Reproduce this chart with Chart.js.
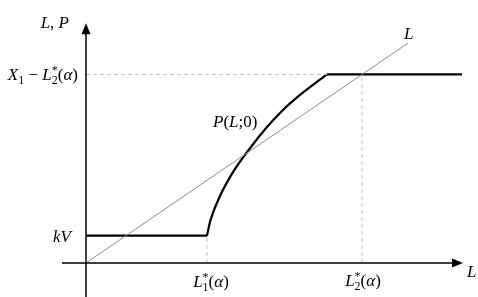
<!DOCTYPE html>
<html>
<head>
<meta charset="utf-8">
<script src="https://cdn.jsdelivr.net/npm/chart.js@4.4.0/dist/chart.umd.min.js"></script>
<style>
    html, body { margin: 0; padding: 0; background: #fff; }
    .probe { font-family: "Liberation Serif"; position: absolute; left: -999px; }
</style>
</head>
<body>
<span class="probe">L <i>L</i></span>
<canvas id="target" width="478" height="297"></canvas>
<script>
// values (L on the x axis, L and P on the y axis)
const L1 = 12.1;          // L1*(alpha)
const L2 = 27.6;          // L2*(alpha)
const kV = 4.0;           // floor of P
const cap = 27.6;         // X1 - L2*(alpha)
const capStart = 24.1;    // where the curve reaches the cap
const capEnd = 37.6;
const lineEnd = 32.2;     // end of the 45 degree line L

const curveX = [12.1, 12.4, 13.4, 14.7, 16.4, 18.1, 19.7, 21.4, 22.8, 24.1];
const curveY = [4.0, 6.0, 9.8, 13.3, 16.8, 19.9, 22.4, 24.6, 26.2, 27.6];

const xRange = [-8.6, 39.2];
const yRange = [-4.98, 38.5];
const xAxisFrom = -2.4, xAxisTo = 37.7;
const yAxisFrom = -4.98, yAxisTo = 35.1;

const SERIF = '"Liberation Serif", "Times New Roman", Times, serif';

function pts(xs, ys) {
    return xs.map((x, i) => ({ x: x, y: ys[i] }));
}

// parts: ['i', text] italic, ['r', text] upright, ['s', sub, sup] small stacked
function partWidth(ctx, p) {
    if (p[0] === 's') {
        ctx.font = '12px ' + SERIF;
        return Math.max(ctx.measureText(p[1]).width, ctx.measureText(p[2] || '').width);
    }
    ctx.font = (p[0] === 'i' ? 'italic ' : '') + '17px ' + SERIF;
    return ctx.measureText(p[1]).width;
}

function drawRich(ctx, parts, x, y, align) {
    let w = 0;
    parts.forEach(p => { w += partWidth(ctx, p); });
    let cx = align === 'center' ? x - w / 2 : align === 'right' ? x - w : x;
    ctx.fillStyle = '#000';
    ctx.textBaseline = 'alphabetic';
    ctx.textAlign = 'left';
    parts.forEach(p => {
        const pw = partWidth(ctx, p);
        if (p[0] === 's') {
            ctx.font = '12px ' + SERIF;
            ctx.fillText(p[1], cx, y + 4);
            if (p[2]) ctx.fillText(p[2], cx, y - 6);
        } else {
            ctx.fillText(p[1], cx, y);
        }
        cx += pw;
    });
}

const axesPlugin = {
    id: 'axesPlugin',
    afterDatasetsDraw(chart) {
        const ctx = chart.ctx;
        const xs = chart.scales.x, ys = chart.scales.y;
        const ox = xs.getPixelForValue(0), oy = ys.getPixelForValue(0);
        const xa = xs.getPixelForValue(xAxisFrom), xb = xs.getPixelForValue(xAxisTo);
        const ya = ys.getPixelForValue(yAxisFrom), yb = ys.getPixelForValue(yAxisTo);

        ctx.save();
        ctx.strokeStyle = '#000';
        ctx.fillStyle = '#000';
        ctx.lineWidth = 1.5;
        ctx.beginPath();
        ctx.moveTo(xa, oy); ctx.lineTo(xb - 6, oy);
        ctx.moveTo(ox, ya); ctx.lineTo(ox, yb + 6);
        ctx.stroke();

        ctx.beginPath();
        ctx.moveTo(xb, oy); ctx.lineTo(xb - 11, oy - 4.5); ctx.lineTo(xb - 11, oy + 4.5);
        ctx.closePath();
        ctx.fill();
        ctx.beginPath();
        ctx.moveTo(ox, yb); ctx.lineTo(ox - 4.5, yb + 11); ctx.lineTo(ox + 4.5, yb + 11);
        ctx.closePath();
        ctx.fill();

        const pL1 = xs.getPixelForValue(L1), pL2 = xs.getPixelForValue(L2);
        const pKV = ys.getPixelForValue(kV), pCap = ys.getPixelForValue(cap);

        drawRich(ctx, [['i', 'L'], ['r', ', '], ['i', 'P']], ox - 17, yb + 5, 'right');
        drawRich(ctx, [['i', 'X'], ['s', '1'], ['r', ' \u2212 '], ['i', 'L'], ['s', '2', '*'],
            ['r', '('], ['i', '\u03b1'], ['r', ')']], ox - 8, pCap + 6, 'right');
        drawRich(ctx, [['i', 'kV']], ox - 15, pKV + 6, 'right');
        drawRich(ctx, [['i', 'L'], ['s', '1', '*'], ['r', '('], ['i', '\u03b1'], ['r', ')']], pL1 + 4, oy + 24, 'center');
        drawRich(ctx, [['i', 'L'], ['s', '2', '*'], ['r', '('], ['i', '\u03b1'], ['r', ')']], pL2 + 1, oy + 23, 'center');
        drawRich(ctx, [['i', 'L']], xb + 4, oy + 14, 'left');
        drawRich(ctx, [['i', 'L']], xs.getPixelForValue(lineEnd) - 4, ys.getPixelForValue(lineEnd) - 4, 'left');
        drawRich(ctx, [['i', 'P'], ['r', '('], ['i', 'L'], ['r', ';0)']], xs.getPixelForValue(12.7), ys.getPixelForValue(19.9), 'left');
        ctx.restore();
    }
};

const dashed = { borderColor: '#c4c4c4', borderWidth: 1, borderDash: [4, 3] };
const thick = { borderColor: '#000', borderWidth: 2.2 };

function drawChart() {
    const target = document.getElementById('target');
    new Chart(target, {
        type: 'scatter',
        data: {
            datasets: [
                { data: [{ x: L1, y: 0 }, { x: L1, y: kV }], ...dashed },
                { data: [{ x: L2, y: 0 }, { x: L2, y: cap }], ...dashed },
                { data: [{ x: 0, y: cap }, { x: capStart, y: cap }], ...dashed },
                { data: [{ x: 0, y: 0 }, { x: lineEnd, y: lineEnd }], borderColor: '#8c8c8c', borderWidth: 1 },
                { data: [{ x: 0, y: kV }, { x: L1, y: kV }], ...thick },
                { data: pts(curveX, curveY), cubicInterpolationMode: 'monotone', ...thick },
                { data: [{ x: capStart, y: cap }, { x: capEnd, y: cap }], ...thick },
            ],
        },
        options: {
            responsive: false,
            animation: false,
            showLine: true,
            layout: { padding: 0, autoPadding: false },
            elements: { point: { radius: 0, hoverRadius: 0 }, line: { tension: 0, borderCapStyle: 'butt' } },
            plugins: { legend: { display: false }, tooltip: { enabled: false } },
            scales: {
                x: { type: 'linear', min: xRange[0], max: xRange[1], display: false },
                y: { type: 'linear', min: yRange[0], max: yRange[1], display: false },
            },
        },
        plugins: [axesPlugin],
    });
}

Promise.all([
    document.fonts.load('17px "Liberation Serif"'),
    document.fonts.load('italic 17px "Liberation Serif"'),
]).then(drawChart, drawChart);
</script>
</body>
</html>
